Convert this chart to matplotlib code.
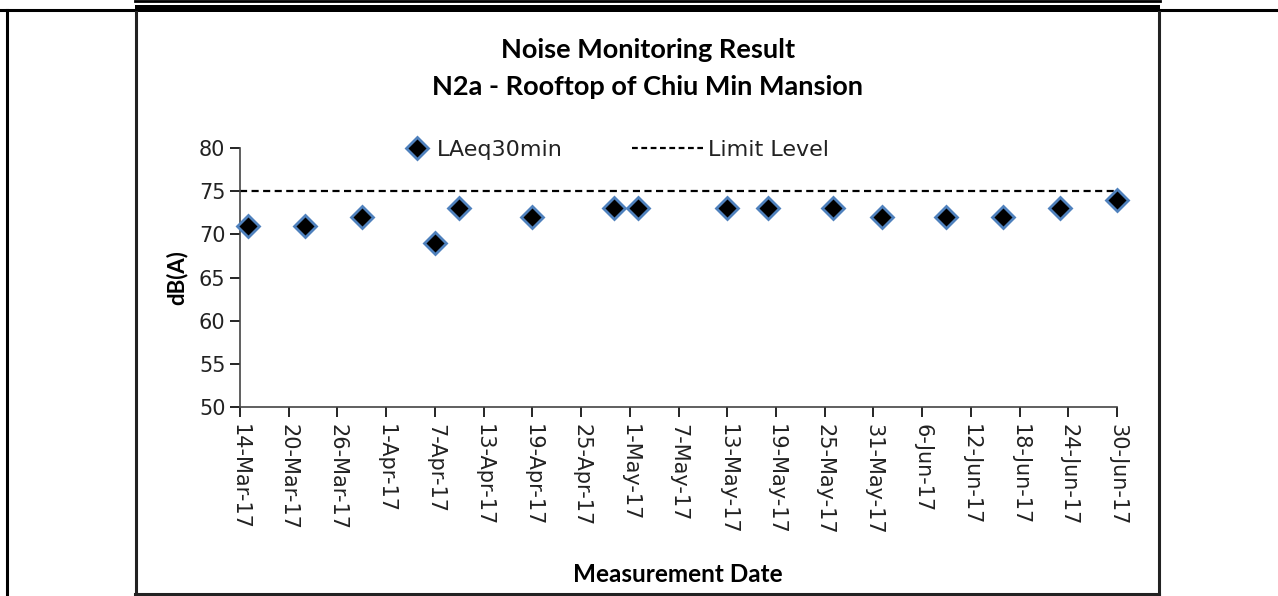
import datetime as dt
import matplotlib
matplotlib.use("Agg")
import matplotlib.pyplot as plt
from matplotlib.lines import Line2D
from matplotlib.patches import Rectangle

dates = ["2017-03-15", "2017-03-22", "2017-03-29", "2017-04-07", "2017-04-10",
         "2017-04-19", "2017-04-29", "2017-05-02", "2017-05-13", "2017-05-18",
         "2017-05-26", "2017-06-01", "2017-06-09", "2017-06-16", "2017-06-23",
         "2017-06-30"]
laeq = [71, 71, 72, 69, 73, 72, 73, 73, 73, 73, 73, 72, 72, 72, 73, 74]
limit_level = 75
x_start = "2017-03-14"
x_end = "2017-06-30"

d = [dt.datetime.strptime(s, "%Y-%m-%d") for s in dates]
d0 = dt.datetime.strptime(x_start, "%Y-%m-%d")
d1 = dt.datetime.strptime(x_end, "%Y-%m-%d")

W, H = 1278, 596
fig = plt.figure(figsize=(W / 100, H / 100), dpi=100)

# document table borders around the chart
def hline(y, x0, x1, lw, color="black"):
    fig.add_artist(Line2D([x0 / W, x1 / W], [1 - y / H, 1 - y / H],
                          transform=fig.transFigure, color=color, lw=lw))

def vline(x, y0, y1, lw, color="black"):
    fig.add_artist(Line2D([x / W, x / W], [1 - y0 / H, 1 - y1 / H],
                          transform=fig.transFigure, color=color, lw=lw))

hline(1, 135, 1160, 2)
fig.add_artist(Rectangle((135 / W, 1 - 12 / H), (1160 - 135) / W, 7 / H,
                         transform=fig.transFigure, color="black", lw=0))
hline(10, 0, 135, 2.2)
hline(10, 1160, 1278, 2.2)
vline(7, 10, 596, 2.2)
vline(135.5, 12, 594, 2.2, "#222222")
vline(1158.5, 12, 594, 2.2, "#222222")
hline(593.5, 135, 1159, 2.2, "#222222")

ax = fig.add_axes([240 / W, 1 - 407 / H, (1117 - 240) / W, (407 - 148) / H])

dash = (0, (3.2, 2.0))
lim_line, = ax.plot([d0, d1], [limit_level, limit_level], color="black",
                    ls=dash, lw=1.6, label="Limit Level")
pts, = ax.plot(d, laeq, ls="none", marker="D", ms=11, mfc="black",
               mec="#4F81BD", mew=2, label="LAeq30min", clip_on=False, zorder=3)

ax.set_xlim(d0, d1)
ax.set_ylim(50, 80)
ax.set_yticks(range(50, 81, 5))

ticks = [d0 + dt.timedelta(days=6 * i) for i in range(19)]
ax.set_xticks(ticks)
ax.set_xticklabels([f"{t.day}-{t:%b-%y}" for t in ticks], rotation=270,
                   fontsize=15, color="#222222")
ax.tick_params(axis="y", labelsize=15, labelcolor="#222222", length=7, width=1.2)
ax.tick_params(axis="x", length=7, width=1.2, pad=5)

for s in ["top", "right"]:
    ax.spines[s].set_visible(False)
for s in ["left", "bottom"]:
    ax.spines[s].set_linewidth(1.2)
    ax.spines[s].set_color("#444444")

ax.set_ylabel("dB(A)", fontsize=16, fontweight="bold", family="Lato", labelpad=8)
fig.text(678 / W, 1 - 575 / H, "Measurement Date", ha="center", va="center",
         fontsize=17.5, fontweight="bold", family="Lato")
fig.text(648 / W, 1 - 50 / H, "Noise Monitoring Result", ha="center",
         va="center", fontsize=19.5, fontweight="bold", family="Lato")
fig.text(648 / W, 1 - 87 / H, "N2a - Rooftop of Chiu Min Mansion", ha="center",
         va="center", fontsize=19.5, fontweight="bold", family="Lato")

# two legend entries placed separately, as in the source chart
leg1 = fig.legend([pts], ["LAeq30min"], frameon=False, fontsize=16,
                  loc="center left", bbox_to_anchor=(406 / W, 1 - 150 / H),
                  borderpad=0, borderaxespad=0, handlelength=1.0,
                  handletextpad=0.4, labelcolor="#222222")
leg2 = fig.legend([Line2D([], [], color="black", ls=(0, (2.6, 1.6)), lw=1.6)],
                  ["Limit Level"], frameon=False, fontsize=16,
                  loc="center left", bbox_to_anchor=(632 / W, 1 - 150 / H),
                  borderpad=0, borderaxespad=0, handlelength=3.2,
                  handletextpad=0.2, labelcolor="#222222")

fig.savefig("out.png", dpi=100)
